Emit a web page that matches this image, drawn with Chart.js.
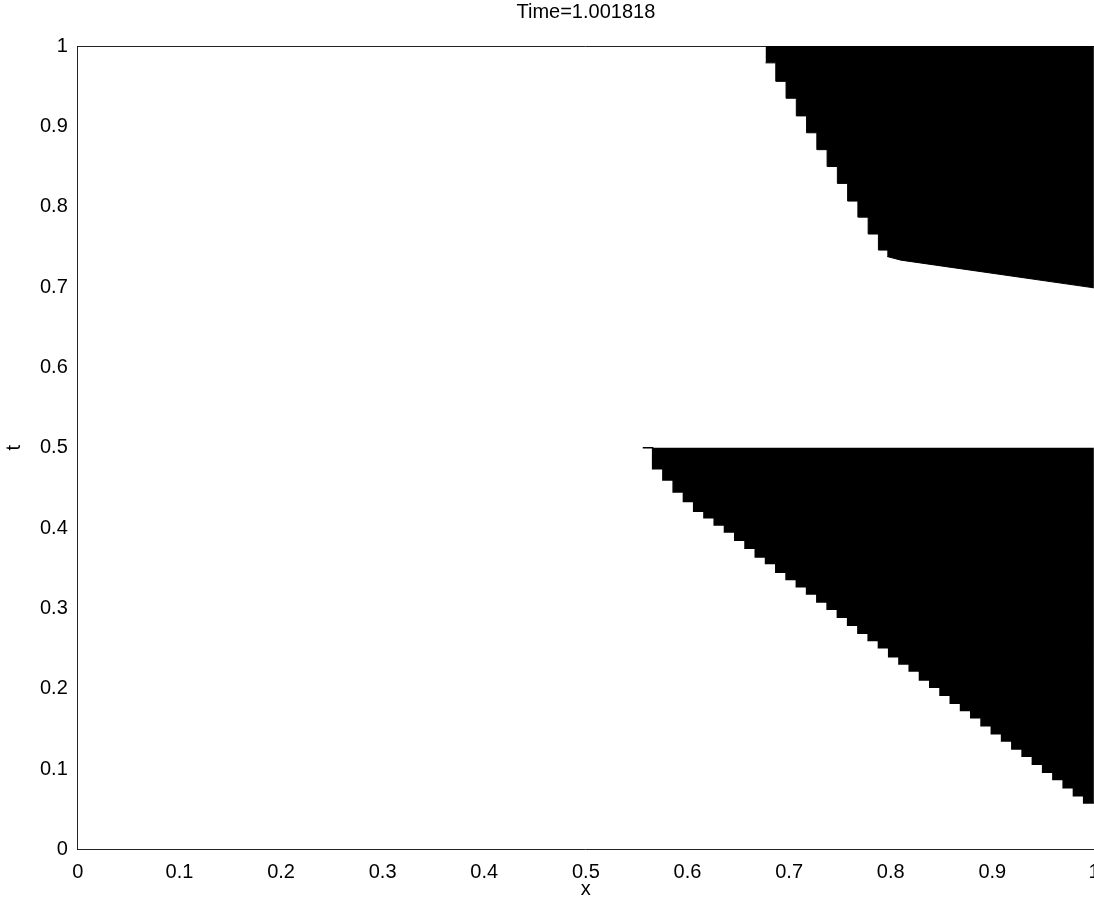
<!DOCTYPE html>
<html>
<head>
<meta charset="utf-8">
<script src="https://cdn.jsdelivr.net/npm/chart.js@4/dist/chart.umd.min.js"></script>
<style>
  html, body { margin: 0; padding: 0; background: #fff; overflow: hidden; }
  #wrap { width: 1112px; height: 904px; }
</style>
</head>
<body>
<div id="wrap"><canvas id="chartTime"></canvas></div>
<script>
// tick labels for both axes
const tickLabels = ['0', '0.1', '0.2', '0.3', '0.4', '0.5', '0.6', '0.7', '0.8', '0.9', '1'];

// upper black region: staircase edge (column left x, lowest t of the column)
const upperX = [0.6768, 0.6869, 0.6970, 0.7071, 0.7172, 0.7273, 0.7374, 0.7475, 0.7576, 0.7677, 0.7778, 0.7879, 0.7980];
const upperT = [0.979, 0.956, 0.935, 0.913, 0.892, 0.871, 0.850, 0.829, 0.807, 0.787, 0.766, 0.746, 0.738];

// upper black region: flat tail towards x = 1
const tailX = [0.7965, 0.8100, 1.0];
const tailT = [0.738, 0.7335, 0.699];

// lower black region: staircase edge below t = 0.5
const lowerX = [0.556, 0.5657, 0.5758, 0.5859, 0.5960, 0.6061, 0.6162, 0.6263, 0.6364, 0.6465, 0.6566,
  0.6667, 0.6768, 0.6869, 0.6970, 0.7071, 0.7172, 0.7273, 0.7374, 0.7475, 0.7576,
  0.7677, 0.7778, 0.7879, 0.7980, 0.8081, 0.8182, 0.8283, 0.8384, 0.8485, 0.8586,
  0.8687, 0.8788, 0.8889, 0.8990, 0.9091, 0.9192, 0.9293, 0.9394, 0.9495, 0.9596,
  0.9697, 0.9798, 0.9899, 1.0];
const lowerT = [0.5, 0.474, 0.460, 0.445, 0.433, 0.421, 0.413, 0.404, 0.395, 0.385, 0.375,
  0.364, 0.356, 0.345, 0.336, 0.327, 0.318, 0.308, 0.299, 0.289, 0.279,
  0.269, 0.260, 0.251, 0.240, 0.231, 0.222, 0.211, 0.202, 0.192, 0.182,
  0.173, 0.164, 0.154, 0.144, 0.135, 0.125, 0.116, 0.106, 0.096, 0.087,
  0.077, 0.067, 0.058, 0.058];
const lowerTop = 0.5;

const toPoints = (xs, ts) => xs.map((x, i) => ({ x: x, y: ts[i] }));

const fontFamily = '"Liberation Sans", Arial, Helvetica, sans-serif';
Chart.defaults.font.family = fontFamily;
Chart.defaults.color = '#000';

const ctx = document.getElementById('chartTime');

new Chart(ctx, {
  type: 'line',
  data: {
    datasets: [
      {
        data: toPoints(upperX, upperT),
        stepped: 'before',
        fill: 'end',
        backgroundColor: '#000',
        borderColor: '#000',
        borderWidth: 1,
        pointRadius: 0
      },
      {
        data: toPoints(tailX, tailT),
        fill: 'end',
        backgroundColor: '#000',
        borderColor: '#000',
        borderWidth: 1,
        pointRadius: 0
      },
      {
        data: toPoints(lowerX, lowerT),
        stepped: 'before',
        fill: { value: lowerTop },
        backgroundColor: '#000',
        borderColor: '#000',
        borderWidth: 1.5,
        pointRadius: 0
      }
    ]
  },
  options: {
    responsive: true,
    maintainAspectRatio: false,
    animation: false,
    layout: { padding: 0 },
    plugins: {
      legend: { display: false },
      tooltip: { enabled: false },
      title: {
        display: true,
        fullSize: false,
        text: 'Time=1.001818',
        color: '#000',
        font: { size: 20, weight: 'normal' },
        padding: { top: 0, bottom: 22 }
      }
    },
    scales: {
      x: {
        type: 'linear',
        min: 0,
        max: 1,
        grid: { display: false, drawTicks: false },
        border: { display: true, color: '#222', width: 1 },
        ticks: {
          stepSize: 0.1,
          padding: 12.5,
          maxRotation: 0,
          font: { size: 20, lineHeight: 1 },
          callback: (v, i) => tickLabels[i]
        },
        title: {
          display: true,
          text: 'x',
          font: { size: 20, lineHeight: 1 },
          padding: { top: -15.5, bottom: 5 }
        }
      },
      xTop: {
        type: 'linear',
        position: 'top',
        min: 0,
        max: 1,
        grid: { display: false, drawTicks: false },
        border: { display: true, color: '#222', width: 1 },
        ticks: { display: false }
      },
      y: {
        min: 0,
        max: 1,
        grid: { display: false, drawTicks: false },
        border: { display: true, color: '#222', width: 1 },
        ticks: {
          stepSize: 0.1,
          padding: 10,
          font: { size: 20 },
          callback: (v, i) => tickLabels[i]
        },
        title: {
          display: true,
          text: 't',
          font: { size: 20 },
          padding: { top: 2, bottom: 4 }
        }
      }
    }
  }
});
</script>
</body>
</html>
